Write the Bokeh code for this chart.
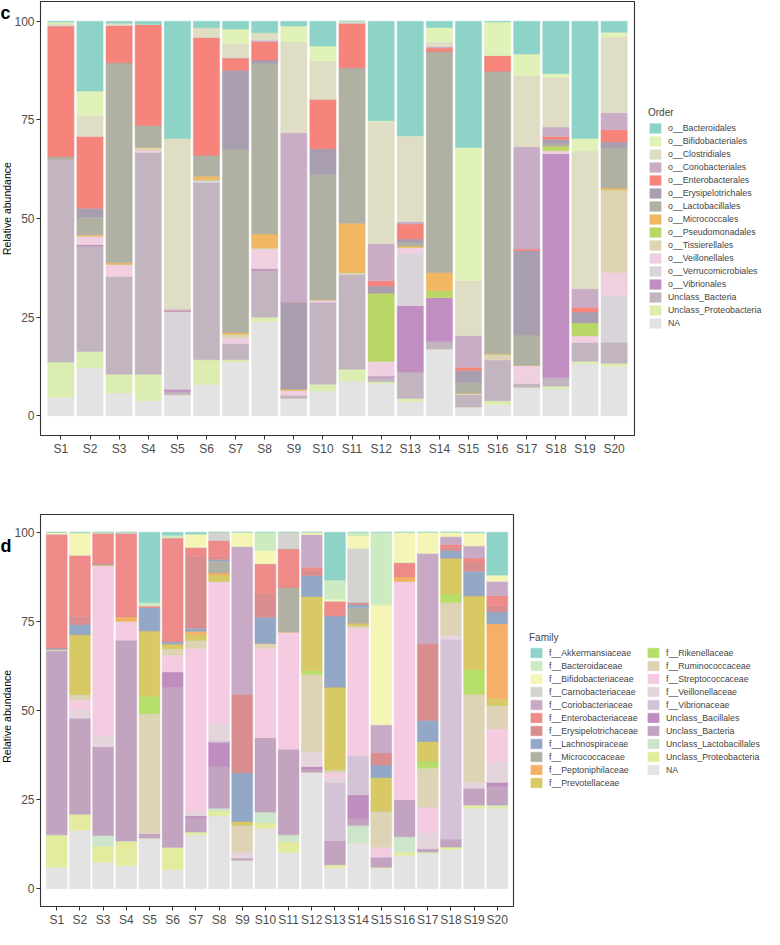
import math
from bokeh.plotting import figure
from bokeh.models import FactorRange, Range1d, FixedTicker, Legend, LegendItem, ColumnDataSource
from bokeh.layouts import column, row
from bokeh.embed import file_html
from bokeh.resources import INLINE

samples = ["S1", "S2", "S3", "S4", "S5", "S6", "S7", "S8", "S9", "S10",
           "S11", "S12", "S13", "S14", "S15", "S16", "S17", "S18", "S19", "S20"]
y_ticks = [0, 25, 50, 75, 100]
y_title = "Relative abundance"

# ---------------- panel c : Order (values per sample, %) ----------------
order_labels = ["o__Bacteroidales", "o__Bifidobacteriales", "o__Clostridiales", "o__Coriobacteriales",
                "o__Enterobacterales", "o__Erysipelotrichales", "o__Lactobacillales", "o__Micrococcales",
                "o__Pseudomonadales", "o__Tissierellales", "o__Veillonellales", "o__Verrucomicrobiales",
                "o__Vibrionales", "Unclass_Bacteria", "Unclass_Proteobacteria", "NA"]
order_colors = ["#8ED3C7", "#E0F2B8", "#DFDDC4", "#C9ADC6", "#F6847A", "#A89EB0", "#B0B1A3", "#F1B762",
                "#B9D766", "#DED4B3", "#F0CFE1", "#D8D4D9", "#C08EC0", "#C2B5C0", "#DCEDB1", "#E3E3E3"]

o_Bacteroidales = [0.2, 17.7, 0.5, 0.8, 29.7, 1.6, 2.0, 2.9, 1.2, 6.3, 0, 25.2, 29.1, 1.6, 32.0, 0.2, 8.3, 13.3, 29.7, 2.8]
o_Bifidobacteriales = [0.4, 6.2, 0, 0, 0, 0, 3.6, 0, 4.0, 3.7, 0, 0.2, 0, 3.6, 33.7, 8.5, 5.5, 0.9, 3.2, 1.2]
o_Clostridiales = [0.6, 5.3, 0.6, 0, 43.3, 2.5, 3.7, 1.9, 23.1, 9.8, 0.5, 31.0, 21.7, 1.2, 14.0, 0, 18.0, 12.6, 34.9, 19.2]
o_Coriobacteriales = [0, 0, 0, 0, 0.5, 0, 0, 0.4, 42.9, 0, 0, 9.4, 0.6, 0.4, 8.0, 0, 25.9, 2.4, 4.7, 4.3]
o_Enterobacterales = [33.1, 18.2, 9.4, 25.6, 0, 29.9, 3.1, 4.6, 0, 12.5, 11.3, 1.3, 3.8, 0.9, 0.8, 4.0, 0.4, 0.7, 1.2, 3.1]
o_Erysipelotrichales = [0, 2.3, 0, 0, 0, 0, 20.1, 1.0, 22.0, 6.6, 0, 1.8, 0.9, 0, 3.1, 0, 21.4, 1.1, 2.7, 1.6]
o_Lactobacillales = [0.5, 4.4, 50.7, 5.6, 0, 5.3, 46.4, 43.1, 0, 31.7, 39.4, 0, 0.9, 56.0, 2.7, 71.6, 7.7, 0.7, 0, 10.1]
o_Micrococcales = [0, 0.3, 0.4, 0, 0, 0.9, 0.4, 3.5, 0.3, 0, 12.5, 0, 0.3, 4.6, 0, 0, 0, 0, 0, 0.4]
o_Pseudomonadales = [0, 0, 0, 0, 0, 0, 0, 0, 0, 0, 0, 17.3, 0, 1.7, 0, 0, 0, 1.1, 3.3, 0]
o_Tissierellales = [0, 0, 0, 0.8, 0, 0, 1.0, 0.3, 0, 0, 0.4, 0, 0, 0, 0.3, 1.5, 0, 0, 0, 21.0]
o_Veillonellales = [0, 2.2, 3.1, 0.5, 0, 0, 1.4, 5.0, 1.3, 0.6, 0, 3.7, 1.5, 0, 0, 0, 4.6, 0.7, 1.7, 5.8]
o_Verrucomicrobiales = [0, 0, 0, 0, 19.8, 0.8, 0, 0, 0, 0, 0, 0, 13.3, 0, 0, 0, 0, 0, 0, 11.9]
o_Vibrionales = [0, 0.4, 0, 0, 0.6, 0, 0, 0.5, 0, 0, 0, 0.4, 16.8, 11.2, 0, 0, 0, 56.8, 0, 0]
o_Unclass_Bacteria = [51.6, 26.7, 24.8, 56.2, 0.8, 44.8, 4.1, 11.8, 0.8, 20.8, 24.1, 1.1, 6.7, 1.9, 3.2, 10.4, 1.0, 2.2, 4.8, 5.3]
o_Unclass_Proteobacteria = [8.9, 4.2, 4.7, 6.7, 0, 6.2, 0.6, 1.2, 0, 1.7, 3.0, 0.4, 0.8, 0, 0, 1.0, 0, 0.7, 0.6, 0.8]
o_NA = [4.7, 12.1, 5.8, 3.8, 5.3, 8.0, 13.6, 23.8, 4.4, 6.3, 8.8, 8.2, 3.6, 16.9, 2.2, 2.8, 7.2, 6.8, 13.2, 12.5]

order_values = [o_Bacteroidales, o_Bifidobacteriales, o_Clostridiales, o_Coriobacteriales, o_Enterobacterales,
                o_Erysipelotrichales, o_Lactobacillales, o_Micrococcales, o_Pseudomonadales, o_Tissierellales,
                o_Veillonellales, o_Verrucomicrobiales, o_Vibrionales, o_Unclass_Bacteria,
                o_Unclass_Proteobacteria, o_NA]

# ---------------- panel d : Family ----------------
family_labels = ["f__Akkermansiaceae", "f__Bacteroidaceae", "f__Bifidobacteriaceae", "f__Carnobacteriaceae",
                 "f__Coriobacteriaceae", "f__Enterobacteriaceae", "f__Erysipelotrichaceae", "f__Lachnospiraceae",
                 "f__Micrococcaceae", "f__Peptoniphilaceae", "f__Prevotellaceae", "f__Rikenellaceae",
                 "f__Ruminococcaceae", "f__Streptococcaceae", "f__Veillonellaceae", "f__Vibrionaceae",
                 "Unclass_Bacillales", "Unclass_Bacteria", "Unclass_Lactobacillales", "Unclass_Proteobacteria", "NA"]
family_colors = ["#8ED3C7", "#CDEBC0", "#F5F5B6", "#D4D3CF", "#C9AAC6", "#EE8B88", "#D98D8F", "#93A8C6",
                 "#B0B1A3", "#F6AF66", "#D8C965", "#B6DE6B", "#DED3B5", "#F5CBE2", "#E4D5DC", "#D4C3D6",
                 "#C08DC0", "#C2A3C0", "#CDE5CA", "#E3EB9F", "#E3E3E3"]

f_Akkermansiaceae = [0, 0, 0, 0, 19.7, 0.8, 0.5, 0, 0, 0, 0, 0, 13.4, 0, 0, 0, 0, 0, 0, 12.0]
f_Bacteroidaceae = [0, 0.3, 0, 0, 0.9, 0.7, 0, 0, 0, 5.1, 0, 0, 5.4, 1.0, 20.3, 0, 0, 0, 0.3, 0]
f_Bifidobacteriaceae = [0.5, 6.1, 0.2, 0.2, 0, 0, 3.7, 0, 4.0, 3.7, 0, 0.6, 0.5, 3.5, 33.7, 8.5, 5.9, 1.2, 3.5, 1.7]
f_Carnobacteriaceae = [0, 0, 0, 0, 0, 0, 0, 2.3, 0, 0, 4.6, 0, 0, 15.2, 0, 0, 0, 0, 0, 0]
f_Coriobacteriaceae = [0, 0, 0, 0, 0, 0, 0, 0, 41.5, 0, 0, 9.2, 0, 0, 7.9, 0, 25.4, 2.2, 3.4, 4.0]
f_Enterobacteriaceae = [31.9, 17.2, 8.6, 23.4, 0.5, 29.1, 2.6, 4.5, 0, 8.3, 10.8, 1.0, 4.1, 0, 0, 3.9, 0, 0.8, 1.1, 2.9]
f_Erysipelotrichaceae = [0, 2.3, 0, 0, 0, 0, 20.1, 0.9, 22.0, 6.7, 0, 1.4, 0, 0.6, 3.4, 0, 21.5, 0.9, 2.6, 1.7]
f_Lachnospiraceae = [0.4, 2.8, 0, 0, 6.5, 0.7, 0.8, 0.4, 13.6, 7.3, 0, 5.8, 20.0, 0.9, 3.5, 0, 5.9, 2.1, 6.9, 3.3]
f_Micrococcaceae = [0, 0, 0.4, 0, 0, 0, 0, 3.3, 0, 0, 12.5, 0, 0, 4.3, 0, 0, 0, 0, 0, 0]
f_Peptoniphilaceae = [0, 0, 0, 1.3, 0, 0, 1.0, 0.6, 0, 0, 0, 0, 0, 0, 0, 1.3, 0, 0, 0, 21.0]
f_Prevotellaceae = [0, 16.8, 0, 0, 18.4, 1.3, 1.5, 1.7, 1.0, 0, 0, 20.8, 23.2, 0.7, 9.4, 0, 5.5, 10.1, 20.7, 1.9]
f_Rikenellaceae = [0, 0, 0, 0, 4.9, 0, 0, 0, 0, 0, 0, 1.1, 0, 0, 0, 0, 2.0, 2.4, 7.0, 0]
f_Ruminococcaceae = [0.4, 1.6, 0, 0, 33.6, 1.9, 2.4, 0, 7.7, 1.5, 0, 21.7, 0.9, 0.6, 10.2, 0, 10.9, 9.2, 24.6, 6.7]
f_Streptococcaceae = [0, 2.7, 47.9, 5.3, 0, 4.6, 45.9, 39.8, 0, 25.0, 32.9, 0, 1.3, 35.9, 2.7, 61.3, 7.2, 0, 0, 9.3]
f_Veillonellaceae = [0, 2.2, 3.1, 0, 0, 0, 1.0, 4.9, 1.6, 0, 0, 4.1, 1.3, 0, 0, 0, 4.5, 1.1, 1.7, 5.6]
f_Vibrionaceae = [0, 0.4, 0, 0, 0, 0, 0, 0.5, 0, 0, 0, 0, 16.5, 11.0, 0, 0, 0, 56.1, 0, 0]
f_Unclass_Bacillales = [0, 0, 0, 0, 0, 4.4, 0.6, 6.8, 0, 0, 0, 0.7, 0, 6.7, 0, 0, 0, 0, 0, 1.2]
f_Unclass_Bacteria = [51.7, 26.7, 24.9, 56.4, 1.3, 44.9, 4.0, 11.7, 0.6, 20.9, 24.1, 0.9, 6.7, 1.9, 2.9, 10.4, 0.9, 2.2, 4.7, 5.2]
f_Unclass_Lactobacillales = [0, 0, 2.9, 0, 0, 0, 0, 0.8, 0, 3.0, 1.9, 0, 0, 4.8, 0, 4.4, 0, 0, 0, 0.4]
f_Unclass_Proteobacteria = [9.1, 4.5, 4.6, 6.9, 0, 6.2, 0.8, 1.3, 0, 1.6, 3.0, 0, 0.8, 0, 0.3, 0.9, 0.3, 0.7, 0.9, 0.5]
f_NA = [6.0, 16.4, 7.4, 6.5, 14.2, 5.4, 15.1, 20.5, 8.0, 16.9, 10.2, 32.7, 5.9, 12.9, 5.7, 9.3, 10.0, 11.0, 22.6, 22.6]

family_values = [f_Akkermansiaceae, f_Bacteroidaceae, f_Bifidobacteriaceae, f_Carnobacteriaceae,
                 f_Coriobacteriaceae, f_Enterobacteriaceae, f_Erysipelotrichaceae, f_Lachnospiraceae,
                 f_Micrococcaceae, f_Peptoniphilaceae, f_Prevotellaceae, f_Rikenellaceae, f_Ruminococcaceae,
                 f_Streptococcaceae, f_Veillonellaceae, f_Vibrionaceae, f_Unclass_Bacillales,
                 f_Unclass_Bacteria, f_Unclass_Lactobacillales, f_Unclass_Proteobacteria, f_NA]

FONT = "Liberation Sans"
GUTTER = 11
BOTTOM = 22


def make_panel(labels, colors, values, width, height, top_border):
    p = figure(x_range=FactorRange(factors=samples, range_padding=0.2, range_padding_units="absolute"),
               y_range=Range1d(-5, 105), width=width, height=height,
               output_backend="svg", toolbar_location=None,
               min_border_left=26, min_border_right=2, min_border_top=top_border, min_border_bottom=BOTTOM)
    keys = ["k%d" % i for i in range(len(labels))]
    data = {"sample": samples}
    for k, v in zip(keys, values):
        data[k] = v
    src = ColumnDataSource(data)
    order = list(range(len(labels)))[::-1]          # bottom of stack = last legend entry
    stack_keys = [keys[i] for i in order]
    stack_cols = [colors[i] for i in order]
    p.vbar_stack(stack_keys, x="sample", width=0.9, source=src,
                 fill_color=stack_cols, line_color=stack_cols, line_width=0.5)

    p.xgrid.visible = False
    p.ygrid.visible = False
    p.outline_line_color = "#333333"
    p.outline_line_width = 1.1

    for ax in (p.xaxis, p.yaxis):
        ax.axis_line_color = None
        ax.major_tick_line_color = "#333333"
        ax.major_tick_out = 4
        ax.major_tick_in = 0
        ax.major_label_standoff = 2
        ax.major_label_text_font = FONT
        ax.major_label_text_font_size = "12px"
        ax.major_label_text_color = "#4D4D4D"
    p.yaxis.ticker = FixedTicker(ticks=y_ticks)
    p.yaxis.minor_tick_line_color = None
    return p


def make_gutter(letter, height, top_border, letter_base):
    # narrow strip left of the y axis: panel letter and the y-axis title
    g = figure(width=GUTTER, height=height, x_range=Range1d(0, GUTTER), y_range=Range1d(height, 0),
               output_backend="svg", toolbar_location=None,
               min_border_left=0, min_border_right=0, min_border_top=0, min_border_bottom=0)
    g.axis.visible = False
    g.grid.visible = False
    g.outline_line_color = None
    g.text(x=[0], y=[letter_base], text=[letter], text_font=value_font(), text_font_size="18px",
           text_font_style="bold", text_baseline="alphabetic", text_align="left", text_color="black")
    mid = (top_border + height - BOTTOM) / 2.0
    g.text(x=[GUTTER / 2.0 + 0.5], y=[mid], text=[y_title], angle=math.pi / 2, text_font=value_font(),
           text_font_size="10.5px", text_baseline="middle", text_align="center", text_color="black")
    return g


def value_font():
    from bokeh.core.properties import value
    return value(FONT)


def make_legend_fig(title, labels, colors, width, height, left, top, bottom, ncols, label_width):
    q = figure(width=width, height=height, x_range=Range1d(0, 1), y_range=Range1d(0, 1),
               output_backend="svg", toolbar_location=None,
               min_border_left=left, min_border_right=0, min_border_top=top, min_border_bottom=bottom)
    q.axis.visible = False
    q.grid.visible = False
    q.outline_line_color = None
    items = []
    for lbl, col in zip(labels, colors):
        # key glyph only: one bar placed outside the visible range
        r = q.vbar(x=[10], top=[10], bottom=[9], width=0.9, fill_color=col, line_color=col, line_width=0.5)
        items.append(LegendItem(label=lbl, renderers=[r]))
    leg = Legend(items=items, location="center_left", title=title, ncols=ncols)
    leg.title_text_font = FONT
    leg.title_text_font_size = "10px"
    leg.title_text_font_style = "normal"
    leg.title_standoff = 4
    leg.label_text_font = FONT
    leg.label_text_font_size = "8.8px"
    leg.label_standoff = 6
    leg.label_height = 12
    leg.label_width = label_width
    leg.glyph_width = 14
    leg.glyph_height = 12
    leg.spacing = 1
    leg.padding = 0
    leg.margin = 0
    leg.border_line_color = None
    leg.background_fill_alpha = 0
    q.add_layout(leg, "center")
    return q


H_C, H_D = 458, 471
gc = make_gutter("c", H_C, 1, 12)
pc = make_panel(order_labels, order_colors, order_values, width=636 - GUTTER, height=H_C, top_border=1)
lc = make_legend_fig("Order", order_labels, order_colors, width=128, height=H_C, left=12, top=1, bottom=BOTTOM,
                     ncols=1, label_width=20)
gd = make_gutter("d", H_D, 36, 38)
pd_ = make_panel(family_labels, family_colors, family_values, width=515 - GUTTER, height=H_D, top_border=36)
ld = make_legend_fig("Family", family_labels, family_colors, width=249, height=H_D, left=14, top=56,
                     bottom=BOTTOM, ncols=2, label_width=96)

layout = column(row(gc, pc, lc, spacing=0), row(gd, pd_, ld, spacing=0), spacing=0)
open("out.html", "w").write(file_html(layout, INLINE))
